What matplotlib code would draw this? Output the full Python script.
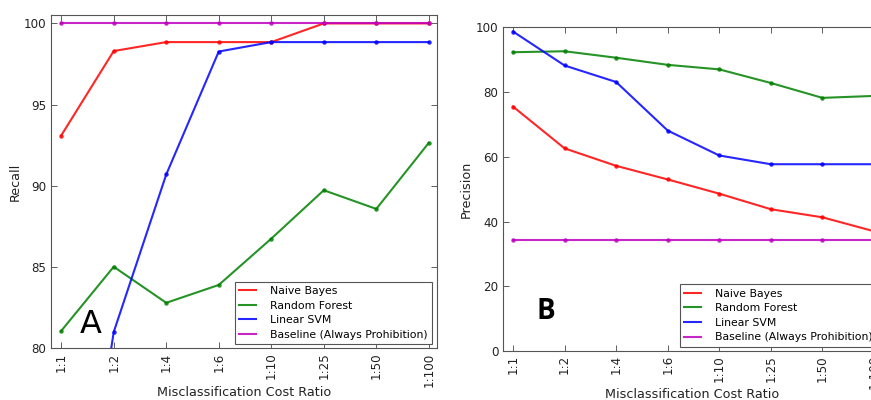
import matplotlib
matplotlib.use("Agg")
import matplotlib.pyplot as plt
from matplotlib.lines import Line2D
import numpy as np

ratios = ["1:1", "1:2", "1:4", "1:6", "1:10", "1:25", "1:50", "1:100"]
series_names = ["Naive Bayes", "Random Forest", "Linear SVM", "Baseline (Always Prohibition)"]
colors = ["#ff0000", "#008000", "#0000ff", "#bf00bf"]

recall_nb = [93.1, 98.3, 98.85, 98.85, 98.85, 100, 100, 100]
recall_rf = [81.07, 85.02, 82.8, 83.9, 86.75, 89.73, 88.58, 92.65]
recall_svm = [60.0, 81.0, 90.7, 98.27, 98.85, 98.85, 98.85, 98.85]
recall_base = [100, 100, 100, 100, 100, 100, 100, 100]
recall_ticks = [80, 85, 90, 95, 100]

prec_nb = [75.5, 62.6, 57.2, 53.0, 48.6, 43.8, 41.3, 37.0]
prec_rf = [92.3, 92.6, 90.6, 88.4, 87.0, 82.8, 78.2, 78.8]
prec_svm = [98.7, 88.2, 83.1, 68.1, 60.4, 57.7, 57.7, 57.7]
prec_base = [34.2, 34.2, 34.2, 34.2, 34.2, 34.2, 34.2, 34.2]
prec_ticks = [0, 20, 40, 60, 80, 100]

fig = plt.figure(figsize=(8.71, 4.0), dpi=100)
axA = fig.add_axes([50.7/871, (400-348.3)/400, 386/871, 333/400])
axB = fig.add_axes([502.7/871, (400-351)/400, 379/871, 323.7/400])

x = np.arange(len(ratios))

def draw(ax, data, ylim, yticks, ylabel, letter, letter_pos, letter_kw, label_x, xlabel_y):
    handles = []
    for vals, name, c in zip(data, series_names, colors):
        ax.plot(x, vals, color=c, lw=1.5, marker='o', markersize=3.2,
                markeredgewidth=0, alpha=0.85)
        handles.append(Line2D([], [], color=c, lw=1.5, alpha=0.85, label=name))
    ax.set_xlim(-0.2, 7.15)
    ax.set_ylim(*ylim)
    ax.set_yticks(yticks)
    ax.set_xticks(x)
    ax.set_xticklabels(ratios, rotation=90)
    ax.tick_params(axis='both', direction='in', top=True, right=True,
                   length=4, width=0.6, color='#444444', labelsize=8.6,
                   labelcolor='#222222', pad=3)
    for s in ax.spines.values():
        s.set_color('#555555')
        s.set_linewidth(0.8)
    ax.set_ylabel(ylabel, fontsize=9.2, color='#222222')
    ax.yaxis.set_label_coords(label_x, 0.5)
    ax.set_xlabel("Misclassification Cost Ratio", fontsize=9.2, color='#222222')
    ax.xaxis.set_label_coords(0.5, xlabel_y)
    leg = ax.legend(handles=handles, loc='lower right', fontsize=7.8, handlelength=1.6,
                    fancybox=False, framealpha=1, edgecolor='#555555',
                    borderpad=0.4, labelspacing=0.42, handletextpad=1.3,
                    borderaxespad=0.4)
    leg.get_frame().set_linewidth(0.8)
    ax.text(letter_pos[0], letter_pos[1], letter, transform=ax.transAxes, **letter_kw)

draw(axA, [recall_nb, recall_rf, recall_svm, recall_base], (80, 100.5), recall_ticks, "Recall", "A",
     (0.075, 0.045), dict(fontsize=23, color='black', family='DejaVu Sans'), -0.075, -0.112)
draw(axB, [prec_nb, prec_rf, prec_svm, prec_base], (0, 100), prec_ticks, "Precision", "B",
     (0.09, 0.10), dict(fontsize=20, color='black', fontweight='bold', family='Open Sans'), -0.078, -0.115)

fig.savefig("out.png", dpi=100)
